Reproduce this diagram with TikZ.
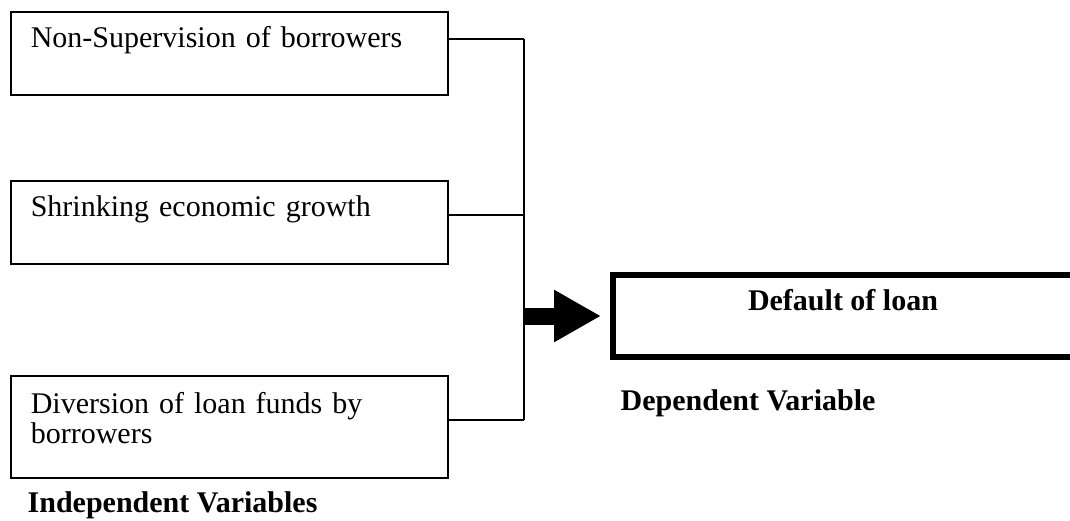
\documentclass[tikz,border=0pt]{standalone}
\usepackage{fontspec}
\setmainfont{Liberation Serif}
\usetikzlibrary{arrows.meta,positioning}

\begin{document}
\begin{tikzpicture}[x=0.5pt, y=-0.5pt,
    every node/.style={font=\fontsize{15}{15}\selectfont},
    varbox/.style={draw, line width=0.8pt, anchor=north west, align=left,
      text width=198.5pt, inner xsep=10pt, inner ysep=4pt},
    link/.style={line width=0.8pt},
    lbl/.style={font=\fontsize{15}{15}\selectfont\bfseries},
    bigarrow/.style={line width=8.5pt, -{Triangle[length=23.5pt,width=24.5pt]}}]
  \useasboundingbox (0,0) rectangle (1070,520);
  \clip (0,0) rectangle (1070,520);

  % independent variables
  \node[varbox, text height=14pt, text depth=19.5pt] (supervision) at (10,11)
    {Non-Supervision of borrowers};
  \node[varbox, text height=14pt, text depth=19.5pt] (growth) at (10,180)
    {Shrinking economic growth};
  \node[varbox, text height=15pt, text depth=28pt] (diversion) at (10,375)
    {Diversion of loan funds by\\ borrowers};
  \node[lbl, anchor=west] (indeplabel)
    at ([xshift=5.3pt,yshift=-13.5pt]diversion.south west) {Independent Variables};

  % dependent variable
  \node[draw, line width=3pt, minimum width=230pt, minimum height=41.25pt,
        inner sep=0pt, text height=4pt, text depth=10pt, lbl] (default)
    at (843,316) {Default of loan};
  \node[lbl, anchor=west] (deplabel)
    at ([xshift=1.8pt,yshift=-21.5pt]default.south west) {Dependent Variable};

  % connectors
  \coordinate (bus) at (524,316);
  \foreach \n/\dy in {supervision/7.25pt, growth/3.75pt, diversion/3.5pt} {
    \coordinate (\n-out) at ([yshift=\dy]\n.east);
    \draw[link] (\n-out) -- (\n-out -| bus);
  }
  \draw[link] (supervision-out -| bus) -- (diversion-out -| bus);
  \draw[bigarrow] (bus) -- ([xshift=-4.5pt]default.west);
\end{tikzpicture}
\end{document}
